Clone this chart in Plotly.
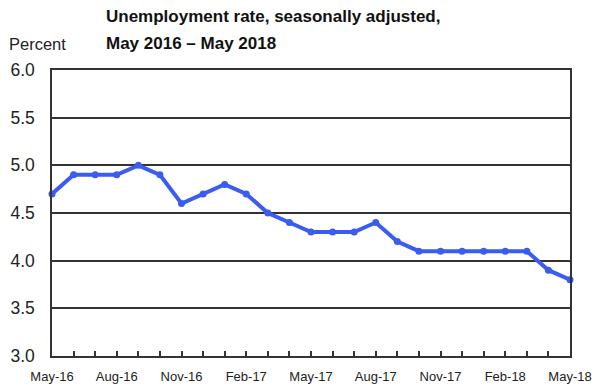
import plotly.graph_objects as go

months = ["May-16","Jun-16","Jul-16","Aug-16","Sep-16","Oct-16","Nov-16","Dec-16",
          "Jan-17","Feb-17","Mar-17","Apr-17","May-17","Jun-17","Jul-17","Aug-17",
          "Sep-17","Oct-17","Nov-17","Dec-17","Jan-18","Feb-18","Mar-18","Apr-18","May-18"]
rate = [4.7,4.9,4.9,4.9,5.0,4.9,4.6,4.7,4.8,4.7,4.5,4.4,4.3,4.3,4.3,4.4,
        4.2,4.1,4.1,4.1,4.1,4.1,4.1,3.9,3.8]
tick_labels = ["May-16","Aug-16","Nov-16","Feb-17","May-17","Aug-17","Nov-17","Feb-18","May-18"]
y_ticks = [3.0,3.5,4.0,4.5,5.0,5.5,6.0]

x = list(range(len(months)))
tick_pos = [months.index(t) for t in tick_labels]

L, R, T, B = 52, 35, 70, 36
W, H = 605, 392

fig = go.Figure()
fig.add_trace(go.Scatter(
    x=x, y=rate, mode="lines+markers",
    line=dict(color="#3b5cf0", width=4),
    marker=dict(color="#3b5cf0", size=7),
    cliponaxis=False, hoverinfo="skip"))

font = "Liberation Sans, Arial, sans-serif"
fig.update_layout(
    width=W, height=H,
    margin=dict(l=L, r=R, t=T, b=B, autoexpand=False),
    paper_bgcolor="white", plot_bgcolor="white",
    showlegend=False,
    font=dict(family=font, color="#222"),
    xaxis=dict(range=[0, 24], tickmode="array", tickvals=tick_pos, ticktext=tick_labels,
               ticks="inside", ticklen=5, tickcolor="#333", tickwidth=1.5,
               minor=dict(dtick=1, tick0=0, ticks="inside", ticklen=5, tickcolor="#333", tickwidth=1.5, showgrid=False),
               showgrid=False, showline=True, linecolor="#333", linewidth=1.5, mirror=True,
               tickfont=dict(size=13, color="#222"), ticklabelstandoff=8, zeroline=False,
               automargin=False, fixedrange=True),
    yaxis=dict(range=[3.0, 6.0], tickmode="array", tickvals=y_ticks,
               ticktext=[f"{v:.1f}" for v in y_ticks],
               showgrid=True, gridcolor="#333", gridwidth=1.5,
               showline=True, linecolor="#333", linewidth=1.5, mirror=True,
               ticks="", tickfont=dict(size=17.5, color="#222"), ticklabelstandoff=12,
               zeroline=False, automargin=False, fixedrange=True),
)

plot_w = W - L - R
plot_h = H - T - B
def px_to_paper(px, py):
    return (px - L) / plot_w, (H - B - py) / plot_h

ax1 = px_to_paper(104, 16)
ax2 = px_to_paper(104, 43)
ax3 = px_to_paper(7, 44)
fig.add_annotation(text="<b>Unemployment rate, seasonally adjusted,</b>", xref="paper", yref="paper",
                   x=ax1[0], y=ax1[1], xanchor="left", yanchor="middle", showarrow=False,
                   font=dict(size=17, family=font, color="#111"))
fig.add_annotation(text="<b>May 2016 – May 2018</b>", xref="paper", yref="paper",
                   x=ax2[0], y=ax2[1], xanchor="left", yanchor="middle", showarrow=False,
                   font=dict(size=17, family=font, color="#111"))
fig.add_annotation(text="Percent", xref="paper", yref="paper",
                   x=ax3[0], y=ax3[1], xanchor="left", yanchor="middle", showarrow=False,
                   font=dict(size=16.5, family=font, color="#222"))

fig.write_html("out.html", config={"displayModeBar": False},
               post_script="document.body.style.margin='0';document.body.style.overflow='hidden';")
